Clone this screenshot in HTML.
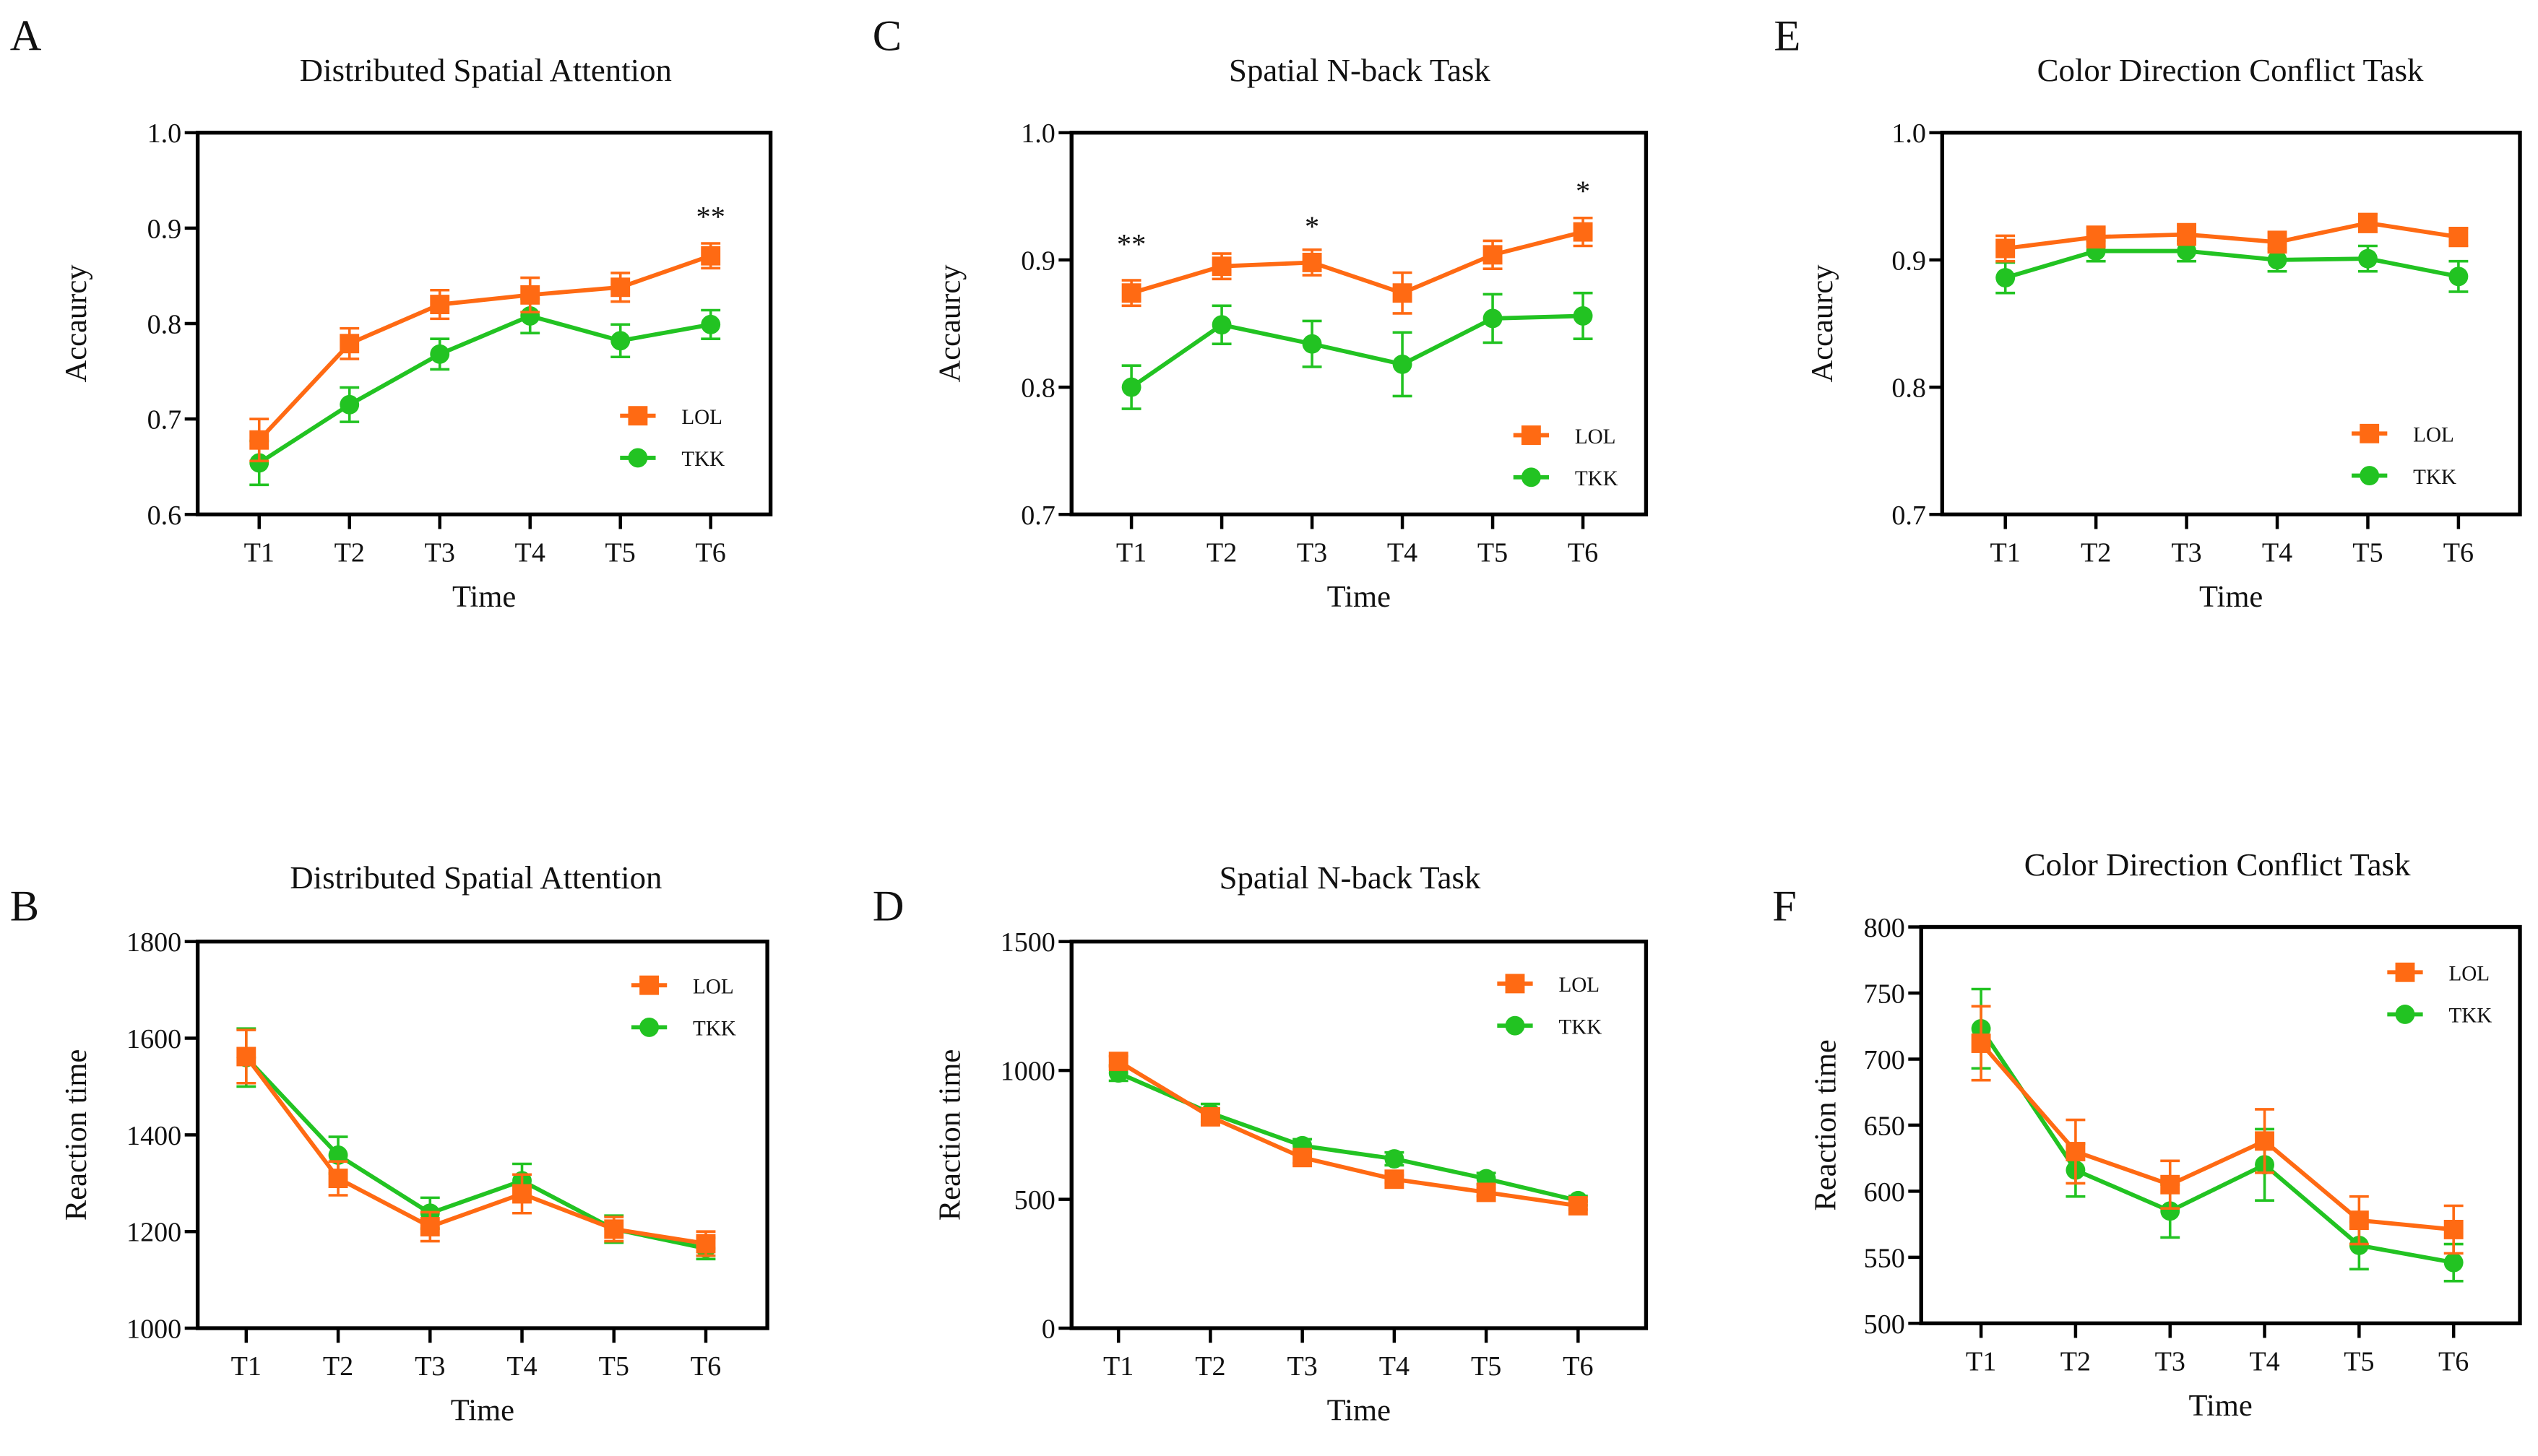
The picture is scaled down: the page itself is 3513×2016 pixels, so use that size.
<!DOCTYPE html>
<html><head><meta charset="utf-8"><style>
html,body{margin:0;padding:0;background:#fff}
svg{display:block}
text{font-family:"Liberation Serif",serif;fill:#111}
</style></head><body>
<svg id="fig" width="3513" height="2016" viewBox="0 0 1568 900" xmlns="http://www.w3.org/2000/svg"></svg>
<script>
const categories = ["T1","T2","T3","T4","T5","T6"];
const lolA = [0.678,0.779,0.820,0.830,0.838,0.871];
const lolAErr = [0.022,0.016,0.015,0.018,0.015,0.013];
const tkkA = [0.654,0.715,0.768,0.808,0.782,0.799];
const tkkAErr = [0.023,0.018,0.016,0.018,0.017,0.015];
const lolC = [0.874,0.895,0.898,0.874,0.904,0.922];
const lolCErr = [0.010,0.010,0.010,0.016,0.011,0.011];
const tkkC = [0.800,0.849,0.834,0.818,0.854,0.856];
const tkkCErr = [0.017,0.015,0.018,0.025,0.019,0.018];
const lolE = [0.909,0.918,0.920,0.914,0.929,0.918];
const lolEErr = [0.010,0.008,0.008,0.008,0.007,0.007];
const tkkE = [0.886,0.907,0.907,0.900,0.901,0.887];
const tkkEErr = [0.012,0.008,0.008,0.009,0.010,0.012];
const lolB = [1562,1310,1210,1278,1205,1175];
const lolBErr = [55,35,30,40,25,25];
const tkkB = [1560,1358,1238,1305,1205,1165];
const tkkBErr = [60,38,32,35,28,22];
const lolD = [1035,820,662,578,527,475];
const lolDErr = [20,30,22,15,15,15];
const tkkD = [990,835,708,657,580,495];
const tkkDErr = [30,35,25,25,22,18];
const lolF = [712,630,605,638,578,571];
const lolFErr = [28,24,18,24,18,18];
const tkkF = [723,616,585,620,559,546];
const tkkFErr = [30,20,20,27,18,14];
const accTicks = ["0.6","0.7","0.8","0.9","1.0"];
const acc2Ticks = ["0.7","0.8","0.9","1.0"];
const rtBTicks = ["1000","1200","1400","1600","1800"];
const rtDTicks = ["0","500","1000","1500"];
const rtFTicks = ["500","550","600","650","700","750","800"];

const NS="http://www.w3.org/2000/svg";
const svg=document.getElementById('fig');
function mk(tag,attrs,parent,txt){const e=document.createElementNS(NS,tag);for(const k in attrs)e.setAttribute(k,attrs[k]);if(txt!==undefined)e.textContent=txt;(parent||svg).appendChild(e);return e;}
const ORANGE="#FF6A13",GREEN="#22C322";

function panel(p){
  const g=mk('g',{});
  
  
  const ymin=+p.ticks[0],ymax=+p.ticks[p.ticks.length-1];
  const y=v=>p.y1-(v-ymin)/(ymax-ymin)*(p.y1-p.y0);
  const x=i=>p.xa+(p.xb-p.xa)*i/(categories.length-1);
  const t1=mk('text',{x:p.lx,y:p.ly,'font-size':27},g,p.id);
  
  
  const tt=mk('text',{x:p.tx,y:p.ty,'font-size':20,'text-anchor':'middle'},g,p.title);
  
  
  const box=mk('rect',{x:p.x0,y:p.y0,width:p.x1-p.x0,height:p.y1-p.y0,fill:'none',stroke:'#000','stroke-width':2.4},g);
  
  
  p.ticks.forEach(t=>{
    const yy=y(+t);
    mk('line',{x1:p.x0-8,x2:p.x0,y1:yy,y2:yy,stroke:'#000','stroke-width':2},g);
    const tl=mk('text',{x:p.x0-10,y:yy+6,'font-size':17,'text-anchor':'end'},g,t);
    
    
  });
  categories.forEach((c,i)=>{
    mk('line',{x1:x(i),x2:x(i),y1:p.y1,y2:p.y1+9,stroke:'#000','stroke-width':2},g);
    const tl=mk('text',{x:x(i),y:p.y1+29,'font-size':17,'text-anchor':'middle'},g,c);
    
    
  });
  const xt=mk('text',{x:(p.x0+p.x1)/2,y:p.y1+57,'font-size':19,'text-anchor':'middle'},g,'Time');
  
  
  const cy=(p.y0+p.y1)/2;
  const yt=mk('text',{x:p.ylx,y:cy,'font-size':19,'text-anchor':'middle',transform:`rotate(-90 ${p.ylx} ${cy})`},g,p.ylabel);
  
  
  [[p.tkk,p.tkkE,GREEN,'tkk'],[p.lol,p.lolE,ORANGE,'lol']].forEach(([vals,errs,col,nm])=>{
    const sg=mk('g',{},g);
    
    
    vals.forEach((v,i)=>{
      const xx=x(i),a=y(v+errs[i]),b=y(v-errs[i]);
      mk('line',{x1:xx,x2:xx,y1:a,y2:b,stroke:col,'stroke-width':1.6},sg);
      mk('line',{x1:xx-6,x2:xx+6,y1:a,y2:a,stroke:col,'stroke-width':1.6},sg);
      mk('line',{x1:xx-6,x2:xx+6,y1:b,y2:b,stroke:col,'stroke-width':1.6},sg);
    });
    mk('polyline',{points:vals.map((v,i)=>x(i)+','+y(v)).join(' '),fill:'none',stroke:col,'stroke-width':2.6},sg);
    vals.forEach((v,i)=>{
      let m;
      if(nm==='lol') m=mk('rect',{x:x(i)-6,y:y(v)-6,width:12,height:12,fill:col},sg);
      else m=mk('circle',{cx:x(i),cy:y(v),r:6,fill:col},sg);
      
      
    });
  });
  [[ORANGE,'LOL',p.legY,'sq'],[GREEN,'TKK',p.legY+26,'ci']].forEach(([col,lab,ly,sh])=>{
    const lg=mk('g',{},g);
    
    
    mk('line',{x1:p.legX,x2:p.legX+22,y1:ly,y2:ly,stroke:col,'stroke-width':2.6},lg);
    if(sh==='sq') mk('rect',{x:p.legX+5,y:ly-6,width:12,height:12,fill:col},lg);
    else mk('circle',{cx:p.legX+11,cy:ly,r:6,fill:col},lg);
    mk('text',{x:p.legX+38,y:ly+5,'font-size':13},lg,lab);
  });
  (p.stars||[]).forEach(s=>{
    const st=mk('text',{x:x(s[0]),y:s[1],'font-size':18,'text-anchor':'middle'},g,s[2]);
    
    
  });
}
panel({id:'A',title:'Distributed Spatial Attention',lx:6,ly:31,tx:300,ty:50,x0:122,x1:476,y0:82,y1:318,xa:160,xb:439,ticks:accTicks,ylabel:'Accaurcy',ylx:53,lol:lolA,lolE:lolAErr,tkk:tkkA,tkkE:tkkAErr,legX:383,legY:257,stars:[[5,140,'**']]});
panel({id:'C',title:'Spatial N-back Task',lx:539,ly:31,tx:840,ty:50,x0:662,x1:1017,y0:82,y1:318,xa:699,xb:978,ticks:acc2Ticks,ylabel:'Accaurcy',ylx:593,lol:lolC,lolE:lolCErr,tkk:tkkC,tkkE:tkkCErr,legX:935,legY:269,stars:[[0,157,'**'],[2,146,'*'],[5,124,'*']]});
panel({id:'E',title:'Color Direction Conflict Task',lx:1096,ly:31,tx:1378,ty:50,x0:1200,x1:1557,y0:82,y1:318,xa:1239,xb:1519,ticks:acc2Ticks,ylabel:'Accaurcy',ylx:1132,lol:lolE,lolE:lolEErr,tkk:tkkE,tkkE:tkkEErr,legX:1453,legY:268});
panel({id:'B',title:'Distributed Spatial Attention',lx:6,ly:569,tx:294,ty:549,x0:122,x1:474,y0:582,y1:821,xa:152,xb:436,ticks:rtBTicks,ylabel:'Reaction time',ylx:53,lol:lolB,lolE:lolBErr,tkk:tkkB,tkkE:tkkBErr,legX:390,legY:609});
panel({id:'D',title:'Spatial N-back Task',lx:539,ly:569,tx:834,ty:549,x0:662,x1:1017,y0:582,y1:821,xa:691,xb:975,ticks:rtDTicks,ylabel:'Reaction time',ylx:593,lol:lolD,lolE:lolDErr,tkk:tkkD,tkkE:tkkDErr,legX:925,legY:608});
panel({id:'F',title:'Color Direction Conflict Task',lx:1095,ly:569,tx:1370,ty:541,x0:1187,x1:1557,y0:573,y1:818,xa:1224,xb:1516,ticks:rtFTicks,ylabel:'Reaction time',ylx:1134,lol:lolF,lolE:lolFErr,tkk:tkkF,tkkE:tkkFErr,legX:1475,legY:601});
</script>
</body></html>
